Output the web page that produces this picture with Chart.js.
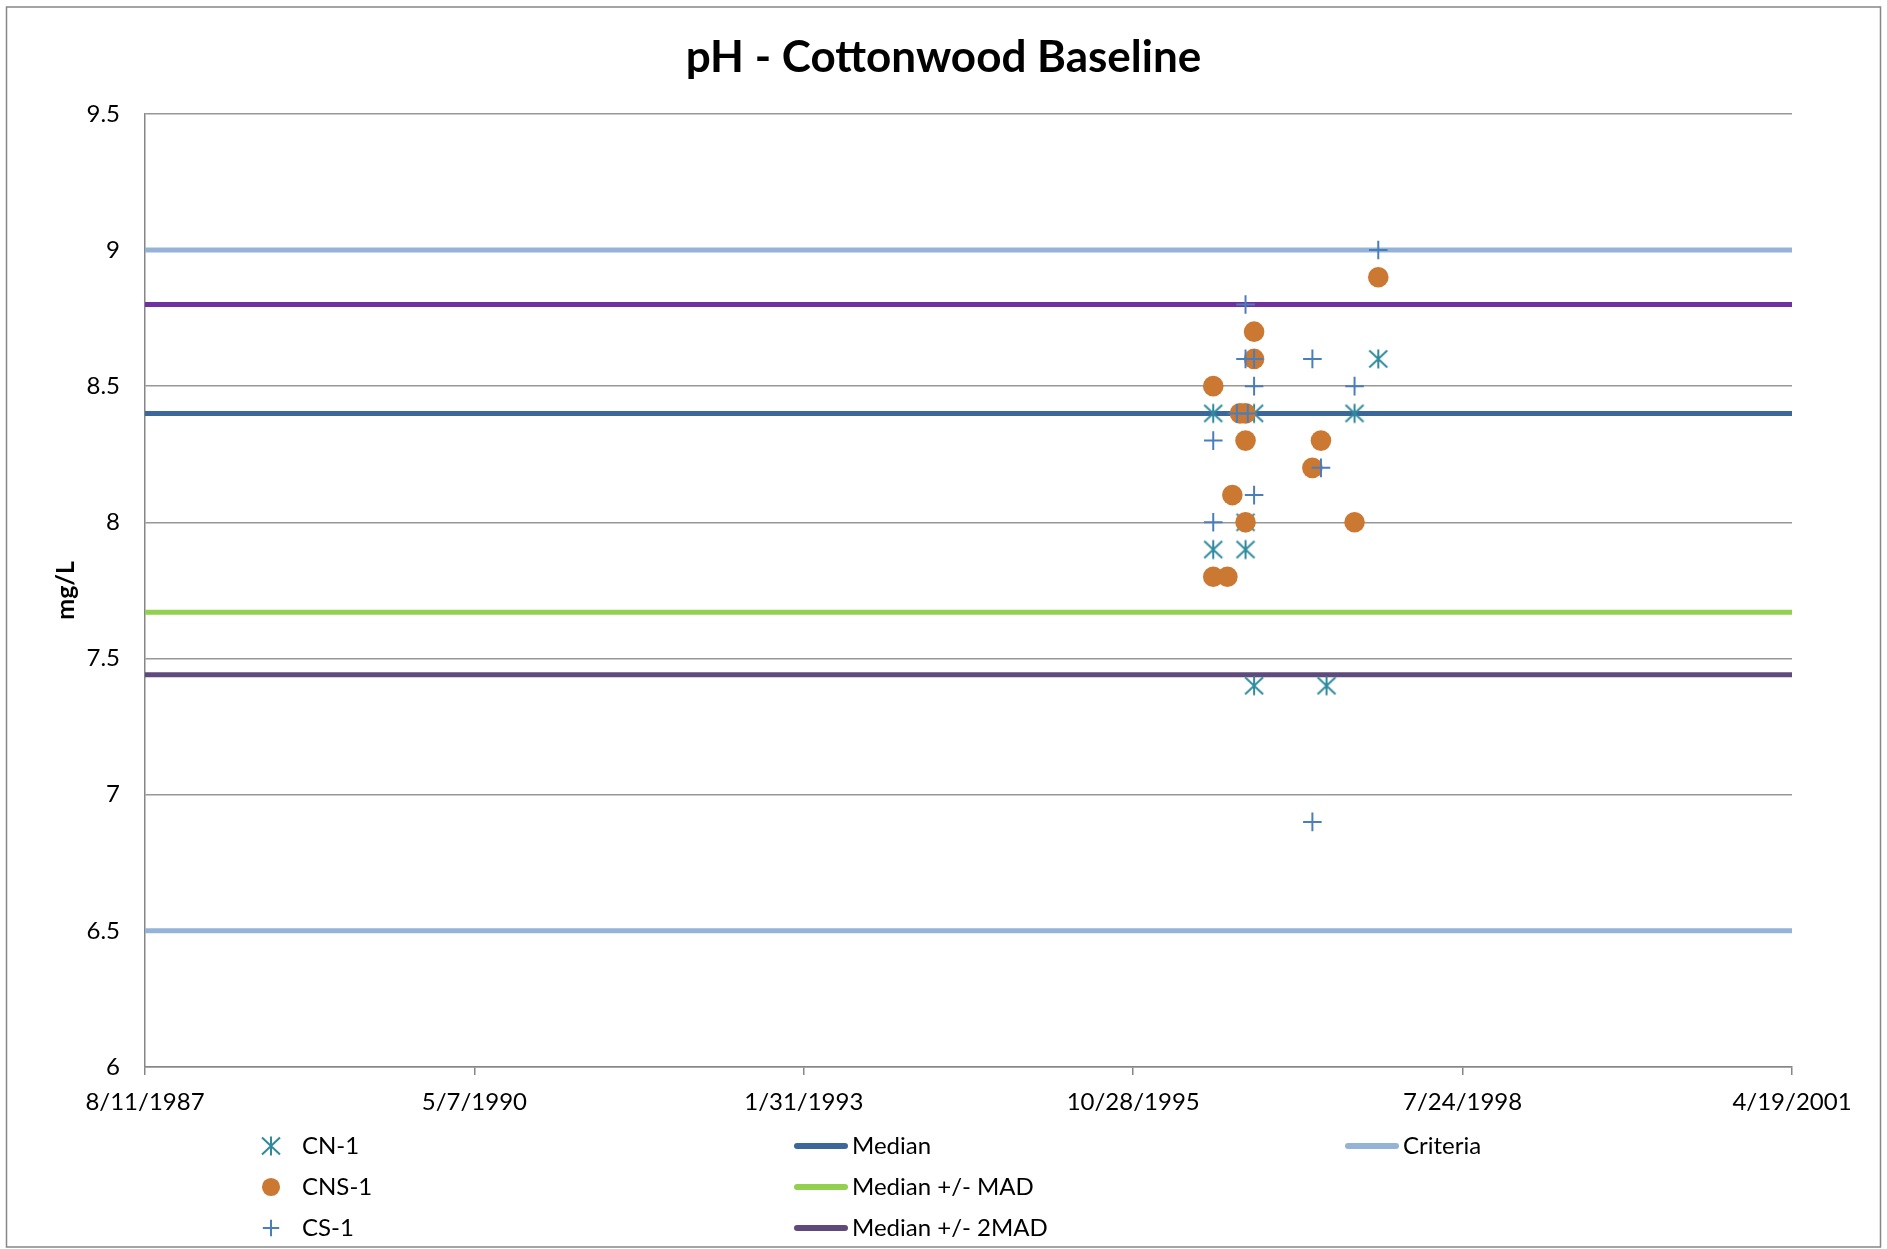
<!DOCTYPE html>
<html>
<head>
<meta charset="utf-8">
<title>pH - Cottonwood Baseline</title>
<script src="https://cdn.jsdelivr.net/npm/chart.js@4.4.1/dist/chart.umd.min.js"></script>
<style>
    html, body { margin: 0; padding: 0; background: #fff; }
    canvas { display: block; }
</style>
</head>
<body>
<canvas id="phChart" width="1887" height="1249"></canvas>
<script>
// Sample dates and pH values per station
const cn1Dates = ['1997-11-10', '1996-06-27', '1996-10-29', '1997-08-30', '1996-10-03', '1996-06-27', '1996-10-03', '1996-10-29', '1997-06-06'];
const cn1Values = [8.6, 8.4, 8.4, 8.4, 8.0, 7.9, 7.9, 7.4, 7.4];

const cns1Dates = ['1997-11-10', '1996-10-29', '1996-10-29', '1996-06-27', '1996-09-16', '1996-10-03', '1996-10-03', '1997-05-20', '1997-04-24', '1996-08-24', '1996-10-03', '1997-08-30', '1996-06-27', '1996-08-09'];
const cns1Values = [8.9, 8.7, 8.6, 8.5, 8.4, 8.4, 8.3, 8.3, 8.2, 8.1, 8.0, 8.0, 7.8, 7.8];

const cs1Dates = ['1997-11-10', '1996-10-03', '1996-10-03', '1996-10-29', '1997-04-24', '1996-10-29', '1997-08-30', '1996-09-07', '1996-10-10', '1996-06-27', '1997-05-20', '1996-10-29', '1996-06-27', '1997-04-24'];
const cs1Values = [9.0, 8.8, 8.6, 8.6, 8.6, 8.5, 8.5, 8.4, 8.4, 8.3, 8.2, 8.1, 8.0, 6.9];

// Reference levels
const medianLevels = [8.4];
const madLevels = [7.67];
const twoMadLevels = [8.8, 7.44];
const criteriaLevels = [9.0, 6.5];

// Axes
const xTickLabels = ['8/11/1987', '5/7/1990', '1/31/1993', '10/28/1995', '7/24/1998', '4/19/2001'];
const xStartDate = '1987-08-11';
const xEndDate = '2001-04-19';
const xStepDays = 1000;
const yTickLabels = ['6', '6.5', '7', '7.5', '8', '8.5', '9', '9.5'];
const yMin = 6, yMax = 9.5, yStep = 0.5;

// excel style day serial, so the axis steps land on the same dates
function toSerial(str) {
    const [y, m, d] = str.split('-').map(Number);
    return Date.UTC(y, m - 1, d) / 86400000 + 25569;
}
const xMin = toSerial(xStartDate);
const xMax = toSerial(xEndDate);

function pairUp(dates, values) {
    return dates.map((d, i) => ({ x: toSerial(d), y: values[i] }));
}

// asterisk marker (X with a vertical bar) like the Excel one
function makeAsterisk(color) {
    const c = document.createElement('canvas');
    c.width = 22; c.height = 22;
    const g = c.getContext('2d');
    g.strokeStyle = color;
    g.lineWidth = 2;
    g.beginPath();
    g.moveTo(11, 1.5); g.lineTo(11, 20.5);
    g.moveTo(2, 2.5); g.lineTo(20, 19.5);
    g.moveTo(20, 2.5); g.lineTo(2, 19.5);
    g.stroke();
    return c;
}

const FONT = 'Lato, "Open Sans", sans-serif';
const AXIS_GRAY = '#868686';

const datasets = [
    {
        label: 'CN-1',
        data: pairUp(cn1Dates, cn1Values),
        pointStyle: makeAsterisk('#2F8A9E'),
        pointRadius: 10,
        pointBorderWidth: 2,
        pointBorderColor: '#2F8A9E',
        pointBackgroundColor: '#2F8A9E',
        showLine: false,
        order: 3,
        legendSlot: [0, 0]
    },
    {
        label: 'CNS-1',
        data: pairUp(cns1Dates, cns1Values),
        pointStyle: 'circle',
        pointRadius: 10.3,
        pointBorderWidth: 0,
        pointBorderColor: '#CB7832',
        pointBackgroundColor: '#CB7832',
        showLine: false,
        order: 2,
        legendSlot: [0, 1]
    },
    {
        label: 'CS-1',
        data: pairUp(cs1Dates, cs1Values),
        pointStyle: 'cross',
        pointRadius: 9.3,
        pointBorderWidth: 2,
        pointBorderColor: '#4A7EBB',
        pointBackgroundColor: '#4A7EBB',
        showLine: false,
        order: 1,
        legendSlot: [0, 2]
    }
];

// horizontal reference lines across the whole axis
const lineGroups = [
    { label: 'Median', levels: medianLevels, colors: ['#3B679B'], legendIdx: 0, slot: [1, 0] },
    { label: 'Median +/- MAD', levels: madLevels, colors: ['#92D050'], legendIdx: 0, slot: [1, 1] },
    { label: 'Median +/- 2MAD', levels: twoMadLevels, colors: ['#7030A0', '#604A7B'], legendIdx: 1, slot: [1, 2] },
    { label: 'Criteria', levels: criteriaLevels, colors: ['#95B3D7', '#95B3D7'], legendIdx: 0, slot: [2, 0] }
];
lineGroups.forEach(grp => {
    grp.levels.forEach((lvl, i) => {
        datasets.push({
            label: grp.label,
            data: [{ x: xMin, y: lvl }, { x: xMax, y: lvl }],
            showLine: true,
            borderColor: grp.colors[i],
            backgroundColor: grp.colors[i],
            borderWidth: 5,
            pointRadius: 0,
            order: 10,
            legendSlot: i === grp.legendIdx ? grp.slot : null
        });
    });
});

// legend laid out in three columns under the axis, as in the original
const LEGEND_COLS = [
    { marker: 271, text: 302 },
    { x0: 794, x1: 848, text: 852 },
    { x0: 1345, x1: 1399, text: 1403 }
];
const LEGEND_ROWS = [1146, 1187, 1228];

const frameAndLegend = {
    id: 'frameAndLegend',
    beforeDraw(chart) {
        const ctx = chart.ctx;
        ctx.save();
        ctx.fillStyle = '#fff';
        ctx.fillRect(0, 0, chart.width, chart.height);
        ctx.strokeStyle = AXIS_GRAY;
        ctx.lineWidth = 1.5;
        ctx.strokeRect(6.5, 7, chart.width - 13, chart.height - 9);
        ctx.restore();
    },
    afterDraw(chart) {
        const ctx = chart.ctx;
        ctx.save();
        ctx.font = '24px ' + FONT;
        ctx.textBaseline = 'middle';
        ctx.textAlign = 'left';
        chart.data.datasets.forEach(ds => {
            if (!ds.legendSlot) return;
            const col = LEGEND_COLS[ds.legendSlot[0]];
            const y = LEGEND_ROWS[ds.legendSlot[1]];
            if (ds.showLine) {
                ctx.strokeStyle = ds.borderColor;
                ctx.lineWidth = 6;
                ctx.lineCap = 'round';
                ctx.beginPath();
                ctx.moveTo(col.x0 + 3, y);
                ctx.lineTo(col.x1 - 3, y);
                ctx.stroke();
            } else {
                ctx.strokeStyle = ds.pointBorderColor;
                ctx.fillStyle = ds.pointBackgroundColor;
                ctx.lineWidth = ds.pointBorderWidth;
                Chart.helpers.drawPoint(ctx, {
                    pointStyle: ds.pointStyle,
                    radius: ds.pointRadius * 0.88,
                    borderWidth: ds.pointBorderWidth,
                    rotation: 0
                }, col.marker, y);
            }
            ctx.fillStyle = '#000';
            ctx.fillText(ds.label, col.text, y);
        });
        ctx.restore();
    }
};

const ctx = document.getElementById('phChart').getContext('2d');
const phChart = new Chart(ctx, {
    type: 'scatter',
    data: { datasets: datasets },
    options: {
        responsive: false,
        animation: false,
        events: [],
        layout: {
            padding: 0
        },
        plugins: {
            legend: { display: false },
            tooltip: { enabled: false },
            title: {
                display: true,
                text: 'pH - Cottonwood Baseline',
                color: '#000',
                font: { family: FONT, size: 44, weight: 'bold', lineHeight: 1.2 },
                padding: { top: 31, bottom: 30 }
            }
        },
        scales: {
            x: {
                type: 'linear',
                min: xMin,
                max: xMax,
                border: { color: AXIS_GRAY, width: 1.5 },
                grid: { drawOnChartArea: false, drawTicks: true, tickLength: 8, color: AXIS_GRAY, lineWidth: 1.5 },
                ticks: {
                    stepSize: xStepDays,
                    autoSkip: false,
                    maxRotation: 0,
                    padding: 13,
                    color: '#000',
                    font: { family: FONT, size: 24 },
                    callback: (v, i) => xTickLabels[i]
                },
                afterFit: scale => { scale.height = 182; }
            },
            y: {
                min: yMin,
                max: yMax,
                border: { color: AXIS_GRAY, width: 1.5 },
                grid: { color: '#979797', lineWidth: 1.5, drawTicks: false },
                ticks: {
                    stepSize: yStep,
                    padding: 25,
                    color: '#000',
                    font: { family: FONT, size: 24 },
                    callback: (v, i) => yTickLabels[i]
                },
                title: {
                    display: true,
                    text: 'mg/L',
                    color: '#000',
                    font: { family: FONT, size: 25, weight: 'bold', lineHeight: 1.2 },
                    padding: { top: 51, bottom: 0 }
                },
                afterFit: scale => { scale.width = 145; }
            },
            // empty right-hand spacer so the title stays centred on the whole page
            spacer: {
                type: 'linear',
                position: 'right',
                display: true,
                grid: { display: false },
                border: { display: false },
                ticks: { display: false },
                afterFit: scale => { scale.width = 95; }
            }
        }
    },
    plugins: [frameAndLegend]
});
</script>
</body>
</html>
